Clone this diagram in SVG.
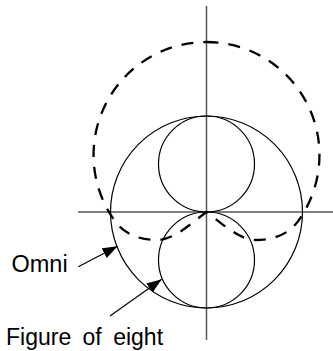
<svg xmlns="http://www.w3.org/2000/svg" width="333" height="351" viewBox="0 0 333 351">
<style>
.axis{stroke:#555;stroke-width:1.5;fill:none}
.curve{stroke:#000;stroke-width:1.2;fill:none}
.dash{stroke:#000;stroke-width:2.3;fill:none;stroke-dasharray:12 10}
.lead{stroke:#000;stroke-width:1.2;fill:none}
.lbl{font-family:"Liberation Sans",Arial,sans-serif;fill:#000}
</style>
<defs>
<marker id="ah" markerUnits="userSpaceOnUse" markerWidth="16" markerHeight="12" refX="15" refY="5.5" orient="auto">
<path d="M0,0 L15,5.5 L0,11 Z" fill="#000"/>
</marker>
</defs>
<rect width="333" height="351" fill="#fff"/>
<g id="axes">
<line class="axis" x1="206.5" y1="6" x2="206.5" y2="340"/>
<line class="axis" x1="78" y1="212" x2="333" y2="212"/>
</g>
<g id="omni">
<circle class="curve" cx="206.5" cy="212" r="96"/>
</g>
<g id="figure-of-eight">
<circle class="curve" cx="206.5" cy="164" r="48"/>
<circle class="curve" cx="206.5" cy="260" r="48"/>
</g>
<g id="cardioid">
<path class="dash" d="M206.5,42 A113,113 0 0 1 297.9,221.4 C288,235 272,240 256,240 C239,240 223,224 206.5,212 C190,224 174,240 157,240 C141,240 125,235 115.1,221.4 A113,113 0 0 1 206.5,42 Z"/>
</g>
<g id="connectors">
<line class="lead" x1="78.3" y1="266.7" x2="117.5" y2="246.2" marker-end="url(#ah)"/>
<line class="lead" x1="110" y1="316" x2="161.7" y2="279.3" marker-end="url(#ah)"/>
</g>
<g id="label-omni">
<text class="lbl" x="11.5" y="271.5" font-size="23.5">Omni</text>
</g>
<g id="label-figure-of-eight">
<text class="lbl" x="6" y="345" font-size="23" word-spacing="5">Figure of eight</text>
</g>
</svg>
